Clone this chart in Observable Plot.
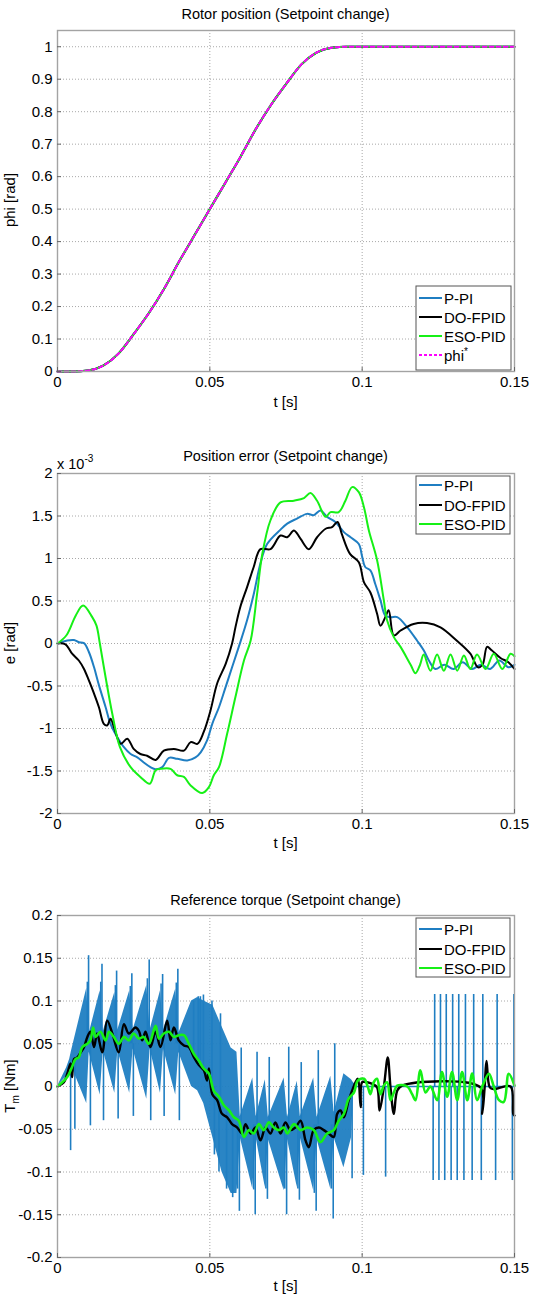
<!DOCTYPE html>
<html><head><meta charset="utf-8">
<script src="https://cdn.jsdelivr.net/npm/d3@7"></script>
<script src="https://cdn.jsdelivr.net/npm/@observablehq/plot@0.6"></script>
<style>
body{margin:0;background:#fff;width:535px;}
#charts svg{display:block;}
</style></head><body><div id="charts"></div>
<script>
// ---------- data ----------
const timeTicks = [0, 0.05, 0.1, 0.15];
const positionTicks = [0, 0.1, 0.2, 0.3, 0.4, 0.5, 0.6, 0.7, 0.8, 0.9, 1];
const errorTicks = [-2, -1.5, -1, -0.5, 0, 0.5, 1, 1.5, 2];
const torqueTicks = [-0.2, -0.15, -0.1, -0.05, 0, 0.05, 0.1, 0.15, 0.2];
const seriesNames = ["P-PI", "DO-FPID", "ESO-PID"];

// Rotor position (all controllers overlap the reference at this scale)
const positionTime = [0,0.005,0.01,0.015,0.02,0.025,0.03,0.035,0.04,0.045,0.05,0.055,0.06,0.065,0.07,0.075,0.08,0.085,0.09,0.095,0.1,0.105,0.11,0.115,0.12,0.125,0.13,0.135,0.14,0.145,0.15];
const positionRef  = [0,0,0.003,0.018,0.055,0.115,0.18,0.255,0.34,0.42,0.5,0.58,0.66,0.745,0.82,0.885,0.945,0.982,0.997,1,1,1,1,1,1,1,1,1,1,1,1];

// Position error, units of 1e-3 rad : [t, e]
const errorPPI = [[0,0],[0.0032,0.035],[0.0054,0.04],[0.007,0.015],[0.0087,0.005],[0.0103,-0.1],[0.012,-0.28],[0.0136,-0.49],[0.0158,-0.75],[0.0174,-0.945],[0.0196,-1.1],[0.0218,-1.22],[0.024,-1.3],[0.0262,-1.34],[0.0283,-1.4],[0.0305,-1.455],[0.0322,-1.48],[0.0344,-1.455],[0.0366,-1.345],[0.0393,-1.357],[0.0426,-1.376],[0.0453,-1.34],[0.047,-1.28],[0.0491,-1.14],[0.0508,-0.945],[0.053,-0.75],[0.0552,-0.51],[0.0573,-0.28],[0.0595,-0.04],[0.0622,0.27],[0.0644,0.58],[0.0666,0.94],[0.0688,1.17],[0.0732,1.34],[0.0754,1.41],[0.0786,1.47],[0.0819,1.525],[0.0841,1.51],[0.0863,1.565],[0.0885,1.49],[0.0912,1.43],[0.094,1.31],[0.0962,1.25],[0.0989,1.17],[0.1,1.02],[0.101,0.9],[0.1027,0.86],[0.1043,0.7],[0.106,0.51],[0.1076,0.33],[0.1093,0.31],[0.1115,0.31],[0.1148,0.19],[0.118,0.035],[0.1202,-0.08],[0.1219,-0.2],[0.124,-0.3],[0.127,-0.25],[0.13,-0.3],[0.133,-0.22],[0.136,-0.3],[0.139,-0.25],[0.142,-0.3],[0.145,-0.2],[0.148,-0.28],[0.15,-0.25]];
const errorDOFPID = [[0,0],[0.0026,-0.01],[0.0048,-0.12],[0.007,-0.2],[0.0087,-0.3],[0.0103,-0.435],[0.012,-0.59],[0.0136,-0.75],[0.0152,-0.945],[0.0163,-0.965],[0.0174,-0.886],[0.0185,-0.98],[0.0207,-1.18],[0.0229,-1.12],[0.025,-1.24],[0.0272,-1.3],[0.0294,-1.32],[0.0322,-1.37],[0.0349,-1.26],[0.0382,-1.24],[0.0415,-1.26],[0.0437,-1.16],[0.0459,-1.18],[0.048,-1.04],[0.0502,-0.79],[0.0524,-0.47],[0.0552,-0.24],[0.0573,0],[0.0584,0.19],[0.06,0.43],[0.0622,0.66],[0.0644,0.9],[0.0666,1.11],[0.0699,1.11],[0.0732,1.27],[0.0754,1.25],[0.0776,1.33],[0.0798,1.23],[0.0825,1.11],[0.0852,1.25],[0.088,1.35],[0.0901,1.37],[0.0919,1.43],[0.0933,1.29],[0.096,1.055],[0.0989,0.957],[0.1006,0.72],[0.1027,0.6],[0.1049,0.35],[0.106,0.21],[0.1076,0.31],[0.1087,0.39],[0.1104,0.094],[0.1126,0.153],[0.1169,0.23],[0.1213,0.24],[0.1257,0.19],[0.131,0.035],[0.1355,-0.12],[0.138,-0.28],[0.1395,-0.25],[0.141,-0.04],[0.1425,-0.08],[0.1454,-0.17],[0.148,-0.22],[0.15,-0.3]];
const errorESOPID = [[0,0],[0.003,0.1],[0.006,0.33],[0.0084,0.447],[0.0114,0.31],[0.0128,0.21],[0.0139,0],[0.0158,-0.4],[0.018,-0.83],[0.0205,-1.22],[0.024,-1.455],[0.0272,-1.57],[0.0303,-1.65],[0.0322,-1.49],[0.0338,-1.475],[0.0371,-1.475],[0.0393,-1.55],[0.0415,-1.57],[0.0437,-1.67],[0.0475,-1.76],[0.0497,-1.69],[0.0513,-1.55],[0.053,-1.455],[0.0557,-1.06],[0.0584,-0.63],[0.0612,-0.2],[0.0634,0.035],[0.0655,0.58],[0.0672,1.05],[0.0699,1.45],[0.0732,1.66],[0.0776,1.68],[0.0809,1.71],[0.083,1.77],[0.0852,1.68],[0.088,1.49],[0.0896,1.545],[0.0923,1.545],[0.0945,1.68],[0.0967,1.84],[0.0989,1.78],[0.1006,1.6],[0.1022,1.33],[0.1049,0.98],[0.1071,0.51],[0.1082,0.27],[0.1104,0.075],[0.1126,-0.04],[0.1159,-0.25],[0.1175,-0.35],[0.119,-0.25],[0.1202,-0.13],[0.1224,-0.32],[0.1246,-0.13],[0.1268,-0.32],[0.129,-0.13],[0.1312,-0.32],[0.1334,-0.14],[0.1355,-0.3],[0.1377,-0.13],[0.1405,-0.3],[0.1432,-0.12],[0.146,-0.3],[0.1487,-0.12],[0.15,-0.15]];

// Reference torque [Nm]
// P-PI oscillation band: [t, lower, upper]
const torquePPIBand = [[0,0,0],[0.003,0.012,0.022],[0.004,0.02,0.032],[0.0045,0.025,0.04],[0.0096,-0.02,0.115],[0.0104,0.04,0.062],[0.014,-0.01,0.112],[0.015,0.042,0.064],[0.0188,-0.008,0.11],[0.0198,0.042,0.066],[0.0237,-0.008,0.112],[0.0248,0.044,0.066],[0.0293,-0.015,0.118],[0.0304,0.044,0.066],[0.0338,-0.008,0.112],[0.0348,0.044,0.066],[0.0388,-0.01,0.114],[0.0398,0.04,0.062],[0.044,0,0.1],[0.046,-0.005,0.104],[0.048,-0.02,0.1],[0.051,-0.06,0.095],[0.054,-0.1,0.07],[0.057,-0.125,0.045],[0.0589,-0.125,0.04],[0.06,-0.06,-0.035],[0.0641,-0.12,0.01],[0.0652,-0.06,-0.035],[0.0682,-0.118,0.008],[0.0692,-0.062,-0.036],[0.0744,-0.122,0.01],[0.0755,-0.062,-0.036],[0.0787,-0.118,0.006],[0.0797,-0.06,-0.035],[0.0841,-0.122,0.01],[0.0852,-0.062,-0.036],[0.0897,-0.12,0.012],[0.0908,-0.06,-0.03],[0.094,-0.095,0.015],[0.0965,-0.06,0.008],[0.0972,-0.005,0.004],[0.098,0,0.003]];
// P-PI spikes: [t, from, to]
const torquePPISpikes = [[0.0043,0.02,-0.075],[0.0057,0.03,-0.05],
 [0.0098,0.05,0.122],[0.0102,0.05,0.153],[0.0108,0.05,-0.046],
 [0.0142,0.05,0.122],[0.0146,0.05,0.143],[0.0151,0.05,-0.04],
 [0.019,0.05,0.118],[0.0194,0.05,0.135],[0.0199,0.05,-0.038],
 [0.0239,0.05,0.117],[0.0244,0.05,0.132],[0.0249,0.05,-0.035],
 [0.0295,0.05,0.126],[0.0301,0.05,0.148],[0.0306,0.05,-0.04],
 [0.034,0.05,0.12],[0.0345,0.05,0.131],[0.035,0.05,-0.035],
 [0.039,0.05,0.121],[0.0395,0.05,0.137],[0.04,0.05,-0.04],
 [0.0447,0.04,0.1],[0.0462,0.03,0.105],[0.0469,0.03,0.105],[0.0479,0.02,0.107],
 [0.0507,0,0.1],[0.0535,-0.02,0.085],[0.0515,0,-0.08],[0.053,-0.01,-0.1],[0.0555,-0.03,-0.12],[0.0575,-0.04,-0.13],
 [0.0591,-0.045,-0.12],[0.0597,-0.045,-0.146],[0.0603,-0.045,0.045],
 [0.0644,-0.045,-0.121],[0.0649,-0.045,-0.15],[0.0655,-0.045,0.04],
 [0.0684,-0.045,-0.12],[0.0689,-0.045,-0.132],[0.0695,-0.045,0.034],
 [0.0746,-0.045,-0.12],[0.0752,-0.045,-0.15],[0.0759,-0.045,0.046],
 [0.0789,-0.045,-0.12],[0.0794,-0.045,-0.133],[0.08,-0.045,0.028],
 [0.0843,-0.045,-0.125],[0.0849,-0.045,-0.146],[0.0856,-0.045,0.042],
 [0.0899,-0.045,-0.12],[0.0905,-0.045,-0.155],[0.091,-0.045,0.05],
 [0.0967,0,-0.108],[0.1004,0,-0.104],[0.1077,0,-0.106],
 [0.1233,0,-0.11],[0.1238,0,0.1076],[0.1252,0,-0.11],[0.1257,0,0.1076],
 [0.1271,0,-0.11],[0.1276,0,0.1076],[0.1292,0,-0.11],[0.1297,0,0.1076],
 [0.1312,0,-0.11],[0.1317,0,0.1076],[0.1334,0,-0.11],[0.1339,0,0.1076],
 [0.1361,0,-0.11],[0.1366,0,0.1076],[0.1391,0,-0.11],[0.1396,0,0.1076],
 [0.1438,0,-0.11],[0.1443,0,0.1076],[0.1493,0,-0.11],[0.1498,0,0.1076]];
const torquePPIRest = [[0.098,0],[0.15,0]];
const torqueDOFPID = [[0,0],[0.0021,0.005],[0.0032,0.015],[0.0043,0.027],[0.0048,0.011],[0.0054,0.032],[0.0065,0.034],[0.0076,0.04],[0.0087,0.046],[0.0098,0.058],[0.0108,0.064],[0.012,0.046],[0.013,0.062],[0.0147,0.04],[0.0163,0.077],[0.018,0.062],[0.0201,0.04],[0.0218,0.073],[0.0234,0.062],[0.0256,0.069],[0.0267,0.065],[0.0278,0.054],[0.0289,0.064],[0.0305,0.046],[0.0322,0.064],[0.0338,0.046],[0.036,0.077],[0.0371,0.054],[0.0382,0.069],[0.0398,0.054],[0.0415,0.048],[0.0431,0.046],[0.0448,0.034],[0.0464,0.025],[0.048,0.019],[0.0491,0.007],[0.0497,0.021],[0.0508,-0.009],[0.0524,-0.016],[0.054,-0.032],[0.0557,-0.036],[0.0573,-0.044],[0.059,-0.048],[0.0606,-0.055],[0.0617,-0.044],[0.0634,-0.055],[0.065,-0.048],[0.0666,-0.063],[0.0683,-0.048],[0.0699,-0.055],[0.0715,-0.042],[0.0732,-0.055],[0.0748,-0.042],[0.0765,-0.051],[0.0781,-0.048],[0.0798,-0.04],[0.0814,-0.063],[0.0825,-0.071],[0.0841,-0.051],[0.0858,-0.048],[0.0874,-0.051],[0.089,-0.055],[0.0907,-0.059],[0.0918,-0.032],[0.0929,-0.028],[0.094,-0.036],[0.0956,-0.016],[0.0967,-0.005],[0.0978,0.005],[0.0986,0.009],[0.0995,-0.024],[0.1,0.005],[0.1016,0.005],[0.1033,0.003],[0.1049,-0.001],[0.1057,-0.028],[0.1071,-0.001],[0.1084,0.034],[0.1093,-0.001],[0.1104,-0.032],[0.1115,-0.005],[0.1131,0.001],[0.1388,-0.001],[0.1394,-0.032],[0.1402,-0.001],[0.1408,0.03],[0.1419,-0.001],[0.1432,-0.003],[0.1487,0],[0.1496,-0.032],[0.15,-0.034]];
const torqueESOPID = [[0,0],[0.0032,0.011],[0.0048,0.023],[0.0059,0.032],[0.007,0.034],[0.0081,0.046],[0.0098,0.05],[0.0108,0.054],[0.0117,0.069],[0.0125,0.058],[0.0141,0.064],[0.0158,0.054],[0.0169,0.064],[0.0185,0.058],[0.0201,0.05],[0.0218,0.058],[0.0234,0.054],[0.025,0.062],[0.0267,0.056],[0.0283,0.058],[0.03,0.05],[0.0322,0.071],[0.0333,0.056],[0.0349,0.062],[0.0366,0.064],[0.0382,0.058],[0.0398,0.06],[0.0415,0.06],[0.0431,0.05],[0.0448,0.038],[0.0464,0.03],[0.048,0.021],[0.0497,0.015],[0.0513,-0.005],[0.053,-0.012],[0.0546,-0.022],[0.0563,-0.028],[0.0579,-0.036],[0.0595,-0.04],[0.0612,-0.059],[0.0628,-0.051],[0.0644,-0.055],[0.0661,-0.044],[0.0677,-0.051],[0.0694,-0.042],[0.071,-0.048],[0.0726,-0.051],[0.0743,-0.048],[0.0754,-0.055],[0.0776,-0.044],[0.0798,-0.051],[0.0819,-0.048],[0.0841,-0.051],[0.0863,-0.065],[0.0885,-0.055],[0.0907,-0.051],[0.0923,-0.04],[0.094,-0.032],[0.0956,-0.014],[0.0973,-0.007],[0.0986,0.007],[0.1006,0.009],[0.1019,-0.001],[0.1027,-0.009],[0.1038,0.005],[0.1049,0.009],[0.106,-0.009],[0.1071,0.001],[0.1082,0.005],[0.1093,-0.016],[0.1104,-0.007],[0.1115,0.001],[0.1148,0],[0.1164,-0.009],[0.1175,-0.016],[0.1191,0.019],[0.1208,-0.007],[0.1224,0],[0.1246,-0.016],[0.1262,0.017],[0.1279,-0.012],[0.1295,0.017],[0.1312,-0.016],[0.1328,0.017],[0.1345,-0.016],[0.1361,0.015],[0.1377,-0.016],[0.1394,0],[0.1416,0.015],[0.1432,0],[0.1449,-0.016],[0.1465,-0.018],[0.1481,0.015],[0.15,0.001]];

// ---------- styling ----------
const FONT = "'Liberation Sans', Arial, Helvetica, sans-serif";
const BLUE = "#1f7ec2", BLACK = "#000000", GREEN = "#16f016", MAGENTA = "#ff00ff";
const fmt = d => String(Math.round(d * 1000) / 1000);
const X = d => d[0], Y = d => d[1];

function panel({height, marginTop, marginBottom, yDomain, yTicks, marks}) {
  return Plot.plot({
    width: 535, height, marginLeft: 57, marginRight: 21, marginTop, marginBottom,
    style: {fontFamily: FONT, fontSize: "15px", color: "#000", background: "#fff", overflow: "visible"},
    x: {domain: [0, 0.15]},
    y: {domain: yDomain},
    marks: [
      Plot.gridX(timeTicks, {stroke: "#a8a8a8", strokeOpacity: 1, strokeDasharray: "1,2"}),
      Plot.gridY(yTicks, {stroke: "#a8a8a8", strokeOpacity: 1, strokeDasharray: "1,2"}),
      ...marks,
      Plot.frame({stroke: "#a3a3a3", strokeWidth: 1.4}),
      Plot.axisX(timeTicks, {tickSize: -4, tickPadding: 9, tickFormat: fmt, label: null, stroke: "#666"}),
      Plot.axisY(yTicks, {tickSize: -4, tickPadding: 9, tickFormat: fmt, label: null, stroke: "#666"})
    ]
  });
}

function addText(svg, x, y, parts, {size = 14.5, anchor = "middle", rotate = false} = {}) {
  const t = d3.select(svg).append("text")
    .attr("font-family", FONT).attr("font-size", size).attr("fill", "#000")
    .attr("text-anchor", anchor);
  if (rotate) t.attr("transform", `translate(${x},${y}) rotate(-90)`);
  else t.attr("x", x).attr("y", y);
  for (const p of parts) {
    const s = t.append("tspan").text(p.text);
    if (p.dy) s.attr("dy", p.dy);
    if (p.size) s.attr("font-size", p.size);
  }
  return t;
}

function legend(svg, box, rows, entries) {
  const g = d3.select(svg).append("g");
  g.append("rect").attr("x", box[0]).attr("y", box[1]).attr("width", box[2] - box[0]).attr("height", box[3] - box[1])
    .attr("fill", "#fff").attr("stroke", "#555").attr("stroke-width", 1);
  entries.forEach((e, i) => {
    const y = rows[i];
    g.append("line").attr("x1", 419).attr("x2", 442).attr("y1", y).attr("y2", y)
      .attr("stroke", e.color).attr("stroke-width", 2).attr("stroke-dasharray", e.dash || null);
    const parts = [{text: e.label}];
    if (e.sup) parts.push({text: e.sup, dy: -6, size: 10});
    addText(svg, 444, y + 5.5, parts, {anchor: "start", size: 15});
  });
}

const root = document.getElementById("charts");

// ---------- panel 1 ----------
const p1 = panel({
  height: 420, marginTop: 30, marginBottom: 49, yDomain: [0, 1.05], yTicks: positionTicks,
  marks: [
    Plot.line(positionRef, {x: positionTime, y: positionRef, stroke: BLUE, strokeWidth: 2, curve: "monotone-x"}),
    Plot.line(positionRef, {x: positionTime, y: positionRef, stroke: BLACK, strokeWidth: 2, curve: "monotone-x"}),
    Plot.line(positionRef, {x: positionTime, y: positionRef, stroke: GREEN, strokeWidth: 2, curve: "monotone-x"}),
    Plot.line(positionRef, {x: positionTime, y: positionRef, stroke: MAGENTA, strokeWidth: 2, strokeDasharray: "4,3", curve: "monotone-x"})
  ]
});
addText(p1, 285.5, 18.5, [{text: "Rotor position (Setpoint change)"}]);
addText(p1, 285.5, 407, [{text: "t [s]"}], {size: 15});
addText(p1, 15, 200, [{text: "phi [rad]"}], {rotate: true, size: 15});
legend(p1, [416, 286, 511, 370], [298, 317, 336, 355], [
  {label: seriesNames[0], color: BLUE}, {label: seriesNames[1], color: BLACK},
  {label: seriesNames[2], color: GREEN}, {label: "phi", sup: "*", color: MAGENTA, dash: "3,2"}
]);
root.append(p1);

// ---------- panel 2 ----------
const p2 = panel({
  height: 430, marginTop: 53, marginBottom: 37, yDomain: [-2, 2], yTicks: errorTicks,
  marks: [
    Plot.line(errorPPI, {x: X, y: Y, stroke: BLUE, strokeWidth: 2, curve: "catmull-rom"}),
    Plot.line(errorDOFPID, {x: X, y: Y, stroke: BLACK, strokeWidth: 2, curve: "catmull-rom"}),
    Plot.line(errorESOPID, {x: X, y: Y, stroke: GREEN, strokeWidth: 2, curve: "catmull-rom"})
  ]
});
addText(p2, 285.5, 41, [{text: "Position error (Setpoint change)"}]);
addText(p2, 57, 49, [{text: "x 10"}, {text: "-3", dy: -7, size: 10}], {anchor: "start", size: 14.5});
addText(p2, 285.5, 428, [{text: "t [s]"}], {size: 15});
addText(p2, 15, 223, [{text: "e [rad]"}], {rotate: true, size: 15});
legend(p2, [416, 56, 510, 114], [65, 85, 104], [
  {label: seriesNames[0], color: BLUE}, {label: seriesNames[1], color: BLACK}, {label: seriesNames[2], color: GREEN}
]);
root.append(p2);

// ---------- panel 3 ----------
const p3 = panel({
  height: 445, marginTop: 65, marginBottom: 38, yDomain: [-0.2, 0.2], yTicks: torqueTicks,
  marks: [
    Plot.areaY(torquePPIBand, {x: X, y1: d => d[1], y2: d => d[2], fill: BLUE, fillOpacity: 0.95}),
    Plot.ruleX(torquePPISpikes, {x: X, y1: d => d[1], y2: d => d[2], stroke: BLUE, strokeWidth: 1.6}),
    Plot.line(torquePPIRest, {x: X, y: Y, stroke: BLUE, strokeWidth: 1.6}),
    Plot.line(torqueDOFPID, {x: X, y: Y, stroke: BLACK, strokeWidth: 2.4, curve: "catmull-rom"}),
    Plot.line(torqueESOPID, {x: X, y: Y, stroke: GREEN, strokeWidth: 2.6, curve: "catmull-rom"})
  ]
});
addText(p3, 285.5, 54.5, [{text: "Reference torque (Setpoint change)"}]);
addText(p3, 285.5, 441, [{text: "t [s]"}], {size: 15});
addText(p3, 15, 236, [{text: "T"}, {text: "m", dy: 4, size: 10}, {text: " [Nm]", dy: -4}], {rotate: true, size: 15});
legend(p3, [416, 68, 510, 127], [79, 99, 118], [
  {label: seriesNames[0], color: BLUE}, {label: seriesNames[1], color: BLACK}, {label: seriesNames[2], color: GREEN}
]);
root.append(p3);
</script></body></html>
